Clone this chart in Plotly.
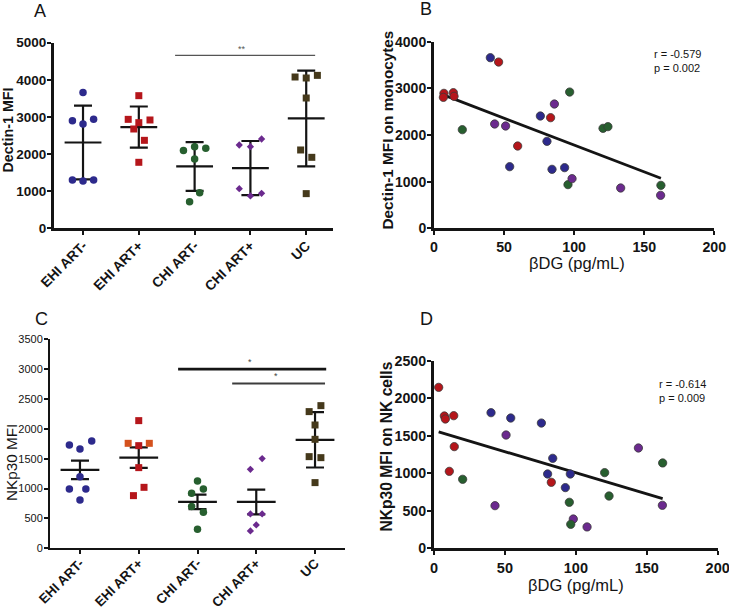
import numpy as np
import plotly.graph_objects as go

# ---------------- DATA ----------------
categories = ["EHI ART-", "EHI ART+", "CHI ART-", "CHI ART+", "UC"]

# Panel A: Dectin-1 MFI per group
dectin_ehi_neg = [3660, 2900, 2810, 2935, 1300, 1275, 1300]
dectin_ehi_pos = [3573, 2935, 2846, 2918, 2675, 2370, 1778]
dectin_chi_neg = [2096, 2199, 2154, 1867, 960, 718]
dectin_chi_pos = [2244, 2199, 2406, 1068, 871, 943]
dectin_uc = [4076, 4049, 4120, 3510, 2110, 1912, 934]
dectin_err_kind = ["SD", "SD", "SD", "SD", "SD"]

# Panel C: NKp30 MFI per group
nkp30_ehi_neg = [1730, 1663, 1797, 1200, 994, 994, 809]
nkp30_ehi_pos = [1758, 1719, 1758, 2138, 1351, 1021, 882]
nkp30_chi_neg = [1128, 994, 921, 698, 603, 318]
nkp30_chi_pos = [1502, 1323, 575, 575, 391, 290]
nkp30_uc = [2389, 2289, 2065, 1825, 1535, 1518, 1100]
nkp30_err_kind = ["SEM", "SEM", "SEM", "SEM", "SD"]

# Panel B: betaDG vs Dectin-1 MFI on monocytes
b_bdg_blue = [40.2, 75.9, 80.6, 54.0, 84.2, 93.2]
b_dec_blue = [3657, 2407, 1864, 1321, 1264, 1300]
b_bdg_red = [46.1, 7.1, 6.7, 13.8, 14.3, 83.2, 59.7]
b_dec_red = [3564, 2893, 2807, 2907, 2829, 2371, 1764]
b_bdg_green = [20.2, 96.8, 120.6, 124.1, 95.6, 161.9]
b_dec_green = [2114, 2921, 2143, 2179, 936, 921]
b_bdg_purple = [43.3, 51.1, 85.9, 98.5, 133.2, 161.7]
b_dec_purple = [2236, 2193, 2664, 1064, 864, 707]
b_fit_intercept = 2936
b_fit_slope = -11.5
b_stats = "r = -0.579<br>p = 0.002"

# Panel D: betaDG vs NKp30 MFI on NK cells
d_bdg_red = [3.3, 7.3, 8.0, 13.9, 14.3, 10.8, 82.7]
d_nk_red = [2148, 1766, 1726, 1770, 1357, 1027, 881]
d_bdg_blue = [40.2, 54.1, 75.7, 83.7, 80.1, 96.1, 92.6]
d_nk_blue = [1810, 1739, 1672, 1201, 992, 992, 810]
d_bdg_purple = [50.8, 43.0, 144.1, 98.2, 107.9, 161.0]
d_nk_purple = [1512, 569, 1339, 391, 285, 574]
d_bdg_green = [20.2, 120.3, 123.4, 161.2, 95.4, 96.4]
d_nk_green = [921, 1010, 698, 1139, 614, 320]
d_fit_intercept = 1572
d_fit_slope = -5.64
d_stats = "r = -0.614<br>p = 0.009"

# tick values
ticks_a = [0, 1000, 2000, 3000, 4000, 5000]
ticks_b = [0, 1000, 2000, 3000, 4000]
ticks_c = [0, 500, 1000, 1500, 2000, 2500, 3000, 3500]
ticks_d = [0, 500, 1000, 1500, 2000, 2500]
ticks_bdg = [0, 50, 100, 150, 200]

# significance bars: (left x, right x, y value, label)
sig_a = [(1.65, 4.16, 4660, "**")]
sig_c = [(1.67, 4.19, 3000, "*"), (2.59, 4.17, 2760, "*")]

# ---------------- STYLE ----------------
W, H = 729, 609
BLUE = "#2d2a8c"
RED = "#b5161b"
ORANGE = "#d4511d"
GREEN = "#275f2f"
PURPLE = "#6b2a8e"
BROWN = "#45391b"
INK = "#141414"
FONT = "Liberation Sans, Arial, sans-serif"

group_colors = [BLUE, RED, GREEN, PURPLE, BROWN]
group_symbols = ["circle", "square", "circle", "diamond", "square"]
group_sizes = [7.5, 7, 7.5, 5.6, 7]

jitter_a = [
    [0, -0.19, 0, 0.19, -0.19, 0, 0.19],
    [0, -0.19, 0, 0.2, -0.09, 0.1, 0],
    [-0.2, 0, 0.2, 0, 0.09, -0.09],
    [-0.2, 0, 0.2, -0.2, 0, 0.2],
    [-0.2, 0, 0.2, 0, -0.1, 0.1, 0],
]
jitter_c = [
    [-0.18, 0, 0.2, 0, -0.18, 0.1, 0],
    [-0.18, 0, 0.18, 0, 0, 0.09, -0.09],
    [0, 0.1, -0.1, -0.1, 0.1, 0],
    [0.1, -0.1, -0.1, 0.1, 0, -0.1],
    [0.1, -0.1, 0, 0, -0.1, 0.1, 0],
]
c_ehi_pos_colors = [ORANGE, RED, ORANGE, RED, RED, RED, RED]


def xdom(x0, x1):
    return [x0 / W, x1 / W]


def ydom(top, bottom):
    return [1 - bottom / H, 1 - top / H]


fig = go.Figure()


def add_category_panel(groups, kinds, jitter, xa, ya, point_colors=None):
    for i, vals in enumerate(groups):
        v = np.array(vals, dtype=float)
        m = v.mean()
        sd = v.std(ddof=1)
        e = sd if kinds[i] == "SD" else sd / np.sqrt(len(v))
        fig.add_trace(go.Scatter(
            x=[i - 0.33, i + 0.33], y=[m, m], mode="lines",
            line=dict(color=INK, width=2.2), xaxis=xa, yaxis=ya,
            showlegend=False, hoverinfo="skip"))
        fig.add_trace(go.Scatter(
            x=[i], y=[m], mode="markers",
            marker=dict(size=1, color="rgba(0,0,0,0)"),
            error_y=dict(type="data", array=[e], color=INK, thickness=2.2, width=9),
            xaxis=xa, yaxis=ya, showlegend=False, hoverinfo="skip"))
    for i, vals in enumerate(groups):
        colors = group_colors[i]
        if point_colors is not None and point_colors[i] is not None:
            colors = point_colors[i]
        fig.add_trace(go.Scatter(
            x=[i + o for o in jitter[i]], y=vals, mode="markers",
            marker=dict(symbol=group_symbols[i], size=group_sizes[i], color=colors,
                        line=dict(width=0)),
            xaxis=xa, yaxis=ya, showlegend=False, cliponaxis=False,
            name=categories[i]))


def add_scatter_panel(series, intercept, slope, xa, ya):
    allx = np.concatenate([np.array(s[0], dtype=float) for s in series])
    xs = np.array([allx.min(), allx.max()])
    fig.add_trace(go.Scatter(
        x=xs, y=intercept + slope * xs, mode="lines",
        line=dict(color=INK, width=2.8), xaxis=xa, yaxis=ya,
        showlegend=False, hoverinfo="skip"))
    for xv, yv, col in series:
        fig.add_trace(go.Scatter(
            x=xv, y=yv, mode="markers",
            marker=dict(symbol="circle", size=8.3, color=col,
                        line=dict(width=0.8, color="#3a3a3a")),
            xaxis=xa, yaxis=ya, showlegend=False, cliponaxis=False))


add_category_panel([dectin_ehi_neg, dectin_ehi_pos, dectin_chi_neg, dectin_chi_pos, dectin_uc],
                   dectin_err_kind, jitter_a, "x", "y")
add_scatter_panel([(b_bdg_blue, b_dec_blue, BLUE), (b_bdg_red, b_dec_red, RED),
                   (b_bdg_green, b_dec_green, GREEN), (b_bdg_purple, b_dec_purple, PURPLE)],
                  b_fit_intercept, b_fit_slope, "x2", "y2")
add_category_panel([nkp30_ehi_neg, nkp30_ehi_pos, nkp30_chi_neg, nkp30_chi_pos, nkp30_uc],
                   nkp30_err_kind, jitter_c, "x3", "y3",
                   point_colors=[None, c_ehi_pos_colors, None, None, None])
add_scatter_panel([(d_bdg_red, d_nk_red, RED), (d_bdg_blue, d_nk_blue, BLUE),
                   (d_bdg_purple, d_nk_purple, PURPLE), (d_bdg_green, d_nk_green, GREEN)],
                  d_fit_intercept, d_fit_slope, "x4", "y4")


def axis(dom, rng, lw=3, **kw):
    d = dict(domain=dom, range=rng, showline=True, linewidth=lw, linecolor=INK,
             ticks="outside", ticklen=4, tickwidth=2, tickcolor=INK,
             showgrid=False, zeroline=False, fixedrange=True, automargin=False,
             ticklabeloverflow="allow")
    d.update(kw)
    return d


def bold_text(vals):
    return ["<b>%s</b>" % v for v in vals]


bold = lambda s: dict(family=FONT, size=s, color=INK)
norm = lambda s: dict(family=FONT, size=s, color=INK)

fig.update_layout(
    template="none",
    width=W, height=H, margin=dict(l=0, r=0, t=0, b=0, pad=0), autosize=False,
    paper_bgcolor="white", plot_bgcolor="white", showlegend=False,
    font=dict(family=FONT, color=INK),
    # Panel A
    xaxis=axis(xdom(54, 333), [-0.52, 4.48], anchor="y", tickvals=list(range(5)),
               ticktext=bold_text(categories), tickangle=-45, tickfont=bold(13.8),
               ticklabelstandoff=-3),
    yaxis=axis(ydom(42.7, 228.3), [0, 5000], anchor="x", tickvals=ticks_a,
               ticktext=bold_text(ticks_a), tickfont=bold(13.5), ticklabelstandoff=-2),
    # Panel B
    xaxis2=axis(xdom(434, 714.3), [0, 200], anchor="y2", tickvals=ticks_bdg,
                ticktext=bold_text(ticks_bdg), tickfont=bold(14.2)),
    yaxis2=axis(ydom(41.7, 228.3), [0, 4000], anchor="x2", tickvals=ticks_b,
                ticktext=bold_text(ticks_b), tickfont=bold(14), ticklabelstandoff=-2),
    # Panel C
    xaxis3=axis(xdom(50, 345), [-0.51, 4.51], lw=2, anchor="y3", tickvals=list(range(5)),
                ticktext=bold_text(categories), tickangle=-45, tickfont=bold(13.4),
                ticklabelstandoff=-4),
    yaxis3=axis(ydom(339.3, 548.3), [0, 3500], lw=2, anchor="x3", tickvals=ticks_c,
                ticktext=[str(v) for v in ticks_c], tickfont=norm(11), ticklabelstandoff=-1),
    # Panel D
    xaxis4=axis(xdom(434, 717.7), [0, 200], anchor="y4", tickvals=ticks_bdg,
                ticktext=bold_text(ticks_bdg), tickfont=bold(14.5)),
    yaxis4=axis(ydom(361, 548.3), [0, 2500], anchor="x4", tickvals=ticks_d,
                ticktext=bold_text(ticks_d), tickfont=bold(14.2), ticklabelstandoff=-2),
)

# significance bars
for (x0, x1, yv, lab) in sig_a:
    fig.add_shape(type="line", xref="x", yref="y", x0=x0, x1=x1, y0=yv, y1=yv,
                  line=dict(color="#555555", width=1.2))
    fig.add_annotation(xref="x", yref="y", x=(x0 + x1) / 2 - 0.05, y=yv, text=lab,
                       showarrow=False, yanchor="bottom", yshift=-1,
                       font=dict(family=FONT, size=9, color="#555555"))
for k, (x0, x1, yv, lab) in enumerate(sig_c):
    fig.add_shape(type="line", xref="x3", yref="y3", x0=x0, x1=x1, y0=yv, y1=yv,
                  line=dict(color=INK if k == 0 else "#3c3c3c", width=2.8 if k == 0 else 2.0))
    fig.add_annotation(xref="x3", yref="y3", x=(x0 + x1) / 2 - (0.04 if k == 0 else 0.05), y=yv,
                       text=lab, showarrow=False, yanchor="bottom", yshift=0,
                       font=dict(family=FONT, size=9, color="#444444"))


def pax(x, y, text, font, **kw):
    fig.add_annotation(xref="paper", yref="paper", x=x / W, y=1 - y / H, text=text,
                       showarrow=False, font=font, **kw)


# panel letters
for lab, (px, py) in zip("ABCD", [(40, 11), (426, 9), (41, 319), (426, 319)]):
    pax(px, py, lab, dict(family=FONT, size=18, color=INK), xanchor="center", yanchor="middle")

# axis titles
pax(7, 130.5, "<b>Dectin-1 MFI</b>", bold(14.3), textangle=-90, xanchor="center", yanchor="middle")
pax(387.5, 130, "<b>Dectin-1 MFI on monocytes</b>", bold(15.3), textangle=-90,
    xanchor="center", yanchor="middle")
pax(577, 263, "βDG (pg/mL)", norm(16.5), xanchor="center", yanchor="middle")
pax(11, 463, "NKp30 MFI", norm(15.3), textangle=-90, xanchor="center", yanchor="middle")
pax(385.5, 447, "<b>NKp30 MFI on NK cells</b>", bold(15.6), textangle=-90,
    xanchor="center", yanchor="middle")
pax(576, 585, "βDG (pg/mL)", norm(16.5), xanchor="center", yanchor="middle")

# correlation stats
pax(652, 46, b_stats, norm(11), xanchor="left", yanchor="top", align="left")
pax(657, 376, d_stats, norm(11), xanchor="left", yanchor="top", align="left")

fig.write_html("out.html", config={"displayModeBar": False},
               post_script="document.body.style.margin='0';document.body.style.padding='0';")
